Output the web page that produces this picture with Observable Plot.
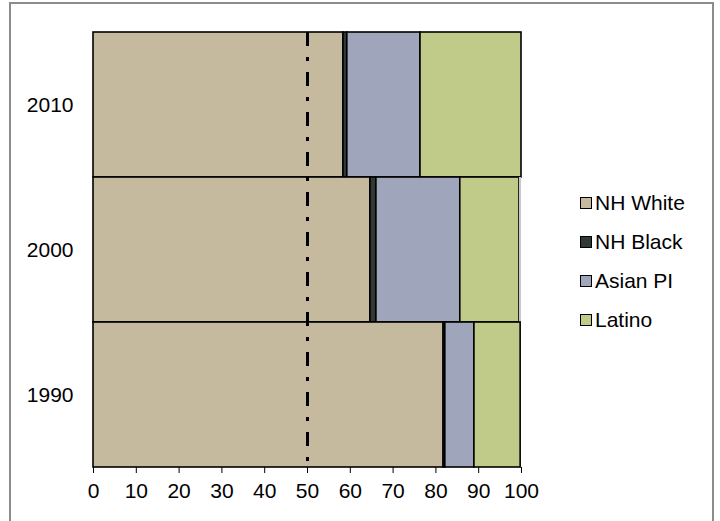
<!DOCTYPE html>
<html>
<head>
<meta charset="utf-8">
<script src="https://cdn.jsdelivr.net/npm/d3@7"></script>
<script src="https://cdn.jsdelivr.net/npm/@observablehq/plot@0.6"></script>
<style>
  html, body { margin: 0; padding: 0; background: #fff; }
  #wrap { position: relative; width: 720px; height: 521px; overflow: hidden; font-family: "Liberation Sans", Arial, sans-serif; }
  #frame { position: absolute; left: 9px; top: 2px; width: 705px; height: 530px; border: 2px solid #8c8c8c; box-sizing: border-box; pointer-events: none; }
  #chart { position: absolute; left: 0; top: 0; }
  #legend { position: absolute; left: 580px; top: 183px; font-size: 21px; color: #000; }
  .item { display: flex; align-items: center; height: 39px; }
  .sw { width: 10px; height: 10px; border: 1px solid #000; margin-right: 3px; }
</style>
</head>
<body>
<div id="wrap">
  <div id="chart"></div>
  <div id="legend"></div>
  <div id="frame"></div>
</div>
<script>
const years = ["2010", "2000", "1990"];
const groups = ["NH White", "NH Black", "Asian PI", "Latino"];
const colors = ["#C5BA9E", "#2F3A36", "#9FA5BA", "#C0CB8A"];
const nhWhite = [58.4, 64.7, 81.8];
const nhBlack = [0.9, 1.4, 0.4];
const asianPI = [17.1, 19.6, 6.8];
const latino = [23.6, 13.8, 10.8];
const other = [0, 0.5, 0];
const xTicks = [0, 10, 20, 30, 40, 50, 60, 70, 80, 90, 100];

const series = [nhWhite, nhBlack, asianPI, latino];
const data = [];
years.forEach((y, i) => {
  groups.forEach((g, j) => data.push({year: y, group: g, value: series[j][i]}));
  data.push({year: y, group: "Other", value: other[i]});
});

const chart = Plot.plot({
  width: 720,
  height: 521,
  marginLeft: 93,
  marginRight: 199,
  marginTop: 32,
  marginBottom: 54,
  style: {fontFamily: "Liberation Sans, Arial, sans-serif", background: "transparent"},
  x: {domain: [0, 100], ticks: xTicks, label: null},
  y: {domain: years, padding: 0, label: null},
  color: {domain: [...groups, "Other"], range: [...colors, "#C8C8C8"]},
  marks: [
    Plot.barX(data, Plot.stackX({
      x: "value", y: "year", fill: "group",
      stroke: d => d.group === "Other" ? "none" : "#000",
      strokeWidth: 1.6
    })),
    Plot.ruleX([50], {stroke: "#000", strokeWidth: 3, strokeDasharray: "14,11,4,11"}),
    Plot.axisX({ticks: xTicks, tickSize: 6, tickPadding: 10, fontSize: 21, stroke: "#000", strokeWidth: 1, label: null}),
    Plot.axisY({tickSize: 0, tickPadding: 20, fontSize: 21, label: null})
  ]
});
document.getElementById("chart").appendChild(chart);

const legend = document.getElementById("legend");
groups.forEach((g, i) => {
  const item = document.createElement("div");
  item.className = "item";
  const sw = document.createElement("div");
  sw.className = "sw";
  sw.style.background = colors[i];
  const lab = document.createElement("span");
  lab.textContent = g;
  item.appendChild(sw);
  item.appendChild(lab);
  legend.appendChild(item);
});
</script>
</body>
</html>
